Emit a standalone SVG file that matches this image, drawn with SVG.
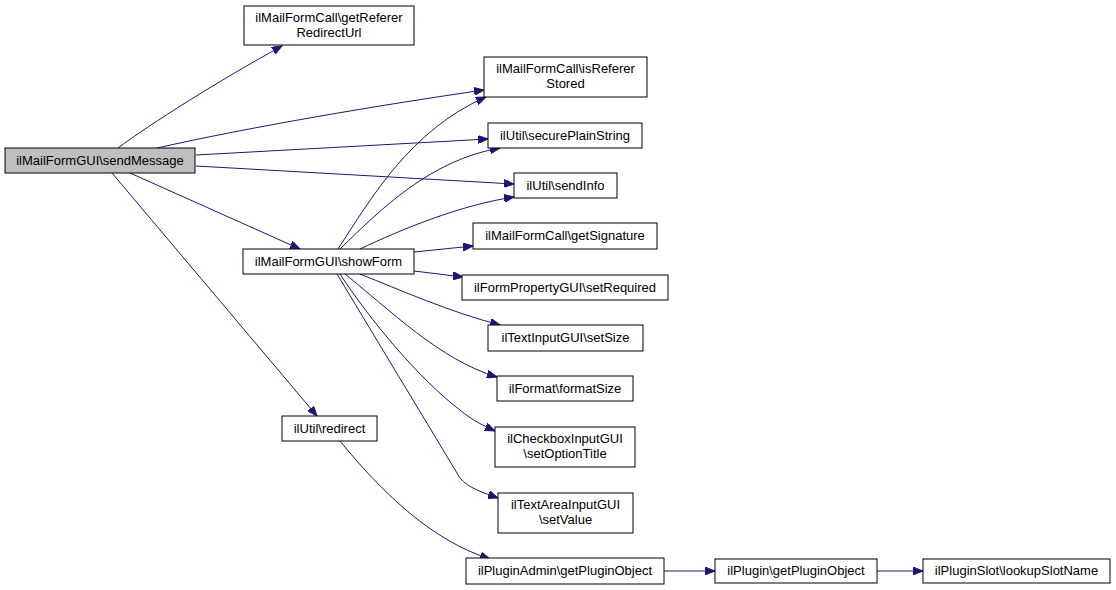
<svg xmlns="http://www.w3.org/2000/svg" width="1116" height="590" viewBox="0 0 1116 590">
<defs>
<marker id="a" markerUnits="userSpaceOnUse" markerWidth="11" markerHeight="8" refX="10" refY="4" orient="auto"><path d="M0,0 L10,4 L0,8 z" fill="#191970" stroke="#191970"/></marker>
</defs>
<style>
.n rect{fill:#fff;stroke:#000;stroke-width:1}
.g rect{fill:#bfbfbf;stroke:#000;stroke-width:1}
text{font-family:"Liberation Sans",Arial,sans-serif;font-size:13px;text-anchor:middle;fill:#000}
.e path{fill:none;stroke:#191970;stroke-width:1;marker-end:url(#a)}
</style>
<rect width="1116" height="590" fill="#fff"/>
<g class="e" id="edges">
<path d="M118,148 C150,124 220,80 282,46"/>
<path d="M157,148 C250,127 380,105 484,90"/>
<path d="M196,155 L488,139"/>
<path d="M196,166 L514,184"/>
<path d="M130,173 L300,249"/>
<path d="M112,173 L317,416"/>
<path d="M338,249 C370,200 410,130 486,97"/>
<path d="M340,249 C380,210 430,160 500,148"/>
<path d="M360,249 C400,230 460,205 514,197"/>
<path d="M414,252 L473,246"/>
<path d="M414,271 L463,277"/>
<path d="M360,274 C400,290 450,312 500,325"/>
<path d="M345,274 C390,310 440,360 497,377"/>
<path d="M340,274 C370,320 420,380 460,410 C472,420 484,426 495,431"/>
<path d="M337,274 L460,478 C468,488 484,493 498,498"/>
<path d="M340,441 C380,490 430,540 490,559"/>
<path d="M664,571 L715,571"/>
<path d="M877,571 L923,571"/>
</g>
<g id="sendMessage" class="g"><rect x="5" y="148" width="190" height="25"/><text x="100" y="165">ilMailFormGUI\sendMessage</text></g>
<g id="getRefererRedirectUrl" class="n"><rect x="244" y="6" width="170" height="39"/><text x="329" y="22">ilMailFormCall\getReferer</text><text x="329" y="37">RedirectUrl</text></g>
<g id="isRefererStored" class="n"><rect x="484" y="57" width="163" height="40"/><text x="565.5" y="73">ilMailFormCall\isReferer</text><text x="565.5" y="88">Stored</text></g>
<g id="securePlainString" class="n"><rect x="488" y="123" width="154" height="25"/><text x="565" y="140">ilUtil\securePlainString</text></g>
<g id="sendInfo" class="n"><rect x="514" y="173" width="103" height="25"/><text x="565.5" y="190">ilUtil\sendInfo</text></g>
<g id="getSignature" class="n"><rect x="473" y="223" width="184" height="26"/><text x="565" y="240">ilMailFormCall\getSignature</text></g>
<g id="setRequired" class="n"><rect x="462" y="275" width="206" height="25"/><text x="565" y="292">ilFormPropertyGUI\setRequired</text></g>
<g id="showForm" class="n"><rect x="243" y="249" width="171" height="25"/><text x="328.5" y="266">ilMailFormGUI\showForm</text></g>
<g id="setSize" class="n"><rect x="488" y="325" width="155" height="26"/><text x="565.5" y="342">ilTextInputGUI\setSize</text></g>
<g id="formatSize" class="n"><rect x="497" y="376" width="136" height="25"/><text x="565" y="393">ilFormat\formatSize</text></g>
<g id="setOptionTitle" class="n"><rect x="495" y="427" width="140" height="40"/><text x="565" y="443">ilCheckboxInputGUI</text><text x="565" y="458">\setOptionTitle</text></g>
<g id="setValue" class="n"><rect x="498" y="493" width="135" height="40"/><text x="565.5" y="509">ilTextAreaInputGUI</text><text x="565.5" y="524">\setValue</text></g>
<g id="redirect" class="n"><rect x="282" y="416" width="95" height="25"/><text x="329.5" y="433">ilUtil\redirect</text></g>
<g id="adminGetPluginObject" class="n"><rect x="466" y="558" width="198" height="26"/><text x="565" y="575">ilPluginAdmin\getPluginObject</text></g>
<g id="pluginGetPluginObject" class="n"><rect x="715" y="559" width="162" height="24"/><text x="796" y="575">ilPlugin\getPluginObject</text></g>
<g id="lookupSlotName" class="n"><rect x="923" y="559" width="187" height="24"/><text x="1016.5" y="575">ilPluginSlot\lookupSlotName</text></g>
</svg>
